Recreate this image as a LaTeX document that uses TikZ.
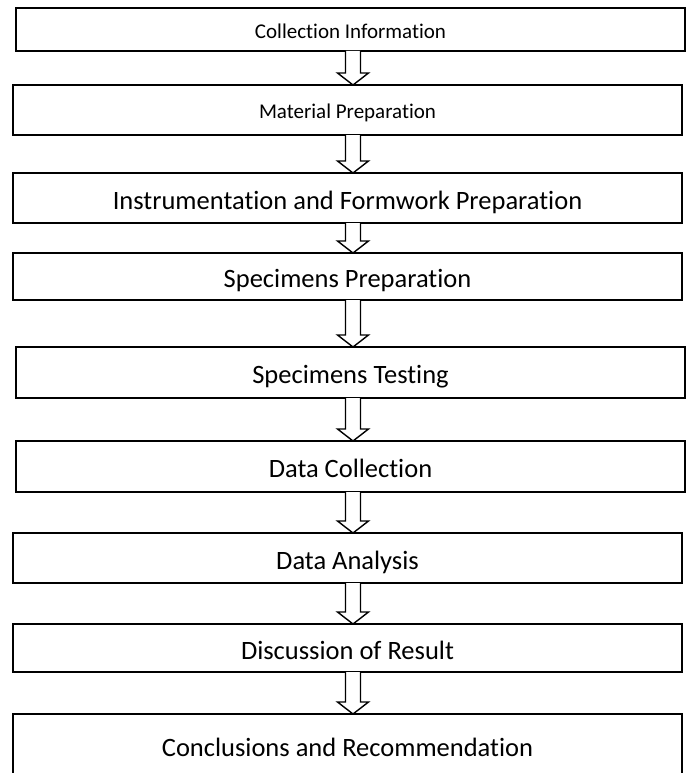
\documentclass[tikz,border=0pt]{standalone}
\usepackage{fontspec}
\setmainfont{Carlito}[Ligatures=NoCommon]
\usetikzlibrary{calc}

% hollow block arrow from the bottom of one box to the top of the next
\newcommand{\arrowx}{353}
\newcommand{\hollowarrow}[2]{%
  \draw[flowarrow] let \p1=(#1.south), \p2=(#2.north) in
    (\arrowx pt-7.5pt,\y1) -- (\arrowx pt-7.5pt,\y2+12pt) -- (\arrowx pt-15.5pt,\y2+12pt)
    -- (\arrowx pt,\y2) -- (\arrowx pt+15.5pt,\y2+12pt) -- (\arrowx pt+7.5pt,\y2+12pt)
    -- (\arrowx pt+7.5pt,\y1);}

\begin{document}
\begin{tikzpicture}[x=1pt,y=-1pt,
    stage/.style={draw, line width=1.8pt, minimum width=669pt, inner sep=0pt, outer sep=0pt,
      text height=22pt, text depth=0pt, font=\fontsize{26.5}{30}\selectfont},
    smallstage/.style={stage, text height=18pt, font=\fontsize{21}{25}\selectfont},
    flowarrow/.style={draw, line width=1.4pt, fill=white, line join=miter}]
  \useasboundingbox (0,0) rectangle (691,773);

  \node[smallstage, minimum height=43pt] (info) at (350.5,29.5) {Collection Information};
  \node[smallstage, minimum height=50pt] (material) at (347.5,110) {Material Preparation};
  \node[stage, minimum height=50pt] (formwork) at (347.5,198) {Instrumentation and Formwork Preparation};
  \node[stage, minimum height=47pt] (specprep) at (347.5,276.5) {Specimens Preparation};
  \node[stage, minimum height=51pt] (testing) at (350.5,372.5) {Specimens Testing};
  \node[stage, minimum height=51pt] (datacol) at (350.5,466.5) {Data Collection};
  \node[stage, minimum height=50pt] (analysis) at (347.5,558) {Data Analysis};
  \node[stage, minimum height=48pt] (discussion) at (347.5,648) {Discussion of Result};
  \node[stage, minimum height=62pt] (conclusion) at (347.5,745) {Conclusions and Recommendation};

  \hollowarrow{info}{material}
  \hollowarrow{material}{formwork}
  \hollowarrow{formwork}{specprep}
  \hollowarrow{specprep}{testing}
  \hollowarrow{testing}{datacol}
  \hollowarrow{datacol}{analysis}
  \hollowarrow{analysis}{discussion}
  \hollowarrow{discussion}{conclusion}
\end{tikzpicture}
\end{document}
